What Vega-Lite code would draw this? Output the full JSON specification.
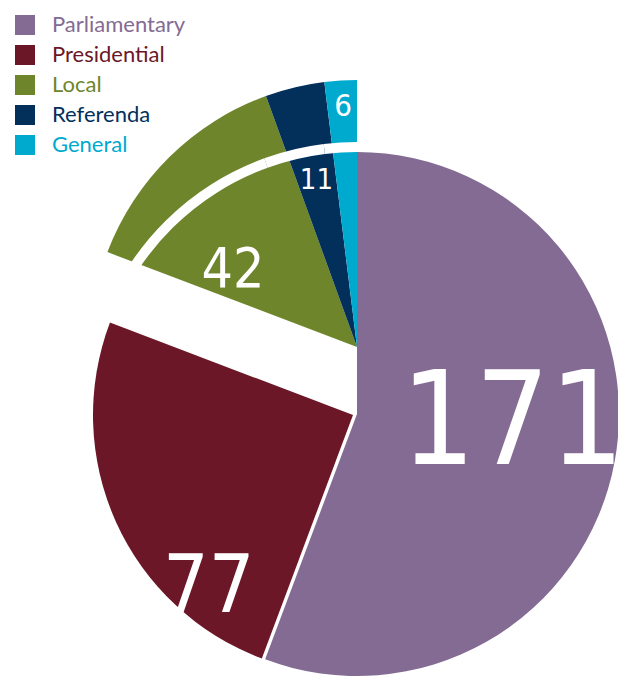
{
  "$schema": "https://vega.github.io/schema/vega-lite/v6.json",
  "width": 618,
  "height": 677,
  "autosize": "none",
  "padding": 0,
  "background": "white",
  "config": {"view": {"stroke": null}},
  "data": {
    "values": [
      {"Category": "Parliamentary", "Value": 171},
      {"Category": "Presidential", "Value": 77},
      {"Category": "Local", "Value": 42},
      {"Category": "Referenda", "Value": 11},
      {"Category": "General", "Value": 6}
    ]
  },
  "encoding": {
    "theta": {"field": "Value", "type": "quantitative", "stack": true},
    "order": {"field": "Value", "type": "quantitative", "sort": "descending"},
    "color": {
      "field": "Category",
      "type": "nominal",
      "scale": {
        "domain": ["Parliamentary", "Presidential", "Local", "Referenda", "General"],
        "range": ["#846B93", "#6B1727", "#6E852B", "#02305B", "#00AACF"]
      },
      "legend": {
        "title": null,
        "orient": "none",
        "legendX": 14,
        "legendY": 14,
        "padding": 0,
        "symbolType": "square",
        "symbolSize": 400,
        "symbolStrokeWidth": 0,
        "symbolOpacity": 1,
        "labelFont": "Lato",
        "labelFontSize": 22,
        "labelOffset": 16,
        "labelLimit": 300,
        "rowPadding": 8,
        "encode": {
          "labels": {"update": {"fill": {"scale": "color", "field": "value"}}},
          "symbols": {"update": {"opacity": {"value": 1}, "fillOpacity": {"value": 1}}}
        }
      }
    }
  },
  "layer": [
    {
      "mark": {"type": "arc", "x": 357, "y": 414, "radius": 262},
      "encoding": {
        "opacity": {"condition": {"test": "datum.Category === 'Parliamentary'", "value": 1}, "value": 0}
      }
    },
    {
      "mark": {"type": "arc", "x": 353, "y": 415, "radius": 260},
      "encoding": {
        "opacity": {"condition": {"test": "datum.Category === 'Presidential'", "value": 1}, "value": 0}
      }
    },
    {
      "mark": {"type": "arc", "x": 357, "y": 347, "radius": 267},
      "encoding": {
        "opacity": {"condition": {"test": "datum.Category === 'Local' || datum.Category === 'Referenda' || datum.Category === 'General'", "value": 1}, "value": 0}
      }
    },
    {
      "mark": {"type": "arc", "x": 357, "y": 414, "radius": 272, "radius2": 262},
      "encoding": {
        "color": {"value": "white"},
        "opacity": {"condition": {"test": "datum.Category === 'Local' || datum.Category === 'Referenda' || datum.Category === 'General'", "value": 1}, "value": 0}
      }
    },
    {
      "mark": {"type": "text", "x": 357, "y": 414, "radius": 156, "dx": 2, "dy": -17, "fontSize": 130, "font": "DejaVu Sans Condensed", "align": "center", "baseline": "middle"},
      "encoding": {
        "text": {"field": "Value"},
        "color": {"value": "white"},
        "opacity": {"condition": {"test": "datum.Category === 'Parliamentary'", "value": 1}, "value": 0}
      }
    },
    {
      "mark": {"type": "text", "x": 353, "y": 415, "radius": 199, "dx": 37, "dy": 91, "fontSize": 80, "font": "DejaVu Sans Condensed", "align": "center", "baseline": "middle"},
      "encoding": {
        "text": {"field": "Value"},
        "color": {"value": "white"},
        "opacity": {"condition": {"test": "datum.Category === 'Presidential'", "value": 1}, "value": 0}
      }
    },
    {
      "mark": {"type": "text", "x": 357, "y": 347, "radius": 144, "dx": -23, "dy": 26, "fontSize": 55, "font": "DejaVu Sans Condensed", "align": "center", "baseline": "middle"},
      "encoding": {
        "text": {"field": "Value"},
        "color": {"value": "white"},
        "opacity": {"condition": {"test": "datum.Category === 'Local'", "value": 1}, "value": 0}
      }
    },
    {
      "mark": {"type": "text", "x": 357, "y": 347, "radius": 174, "dx": 0, "dy": 2, "fontSize": 29, "font": "DejaVu Sans Condensed", "align": "center", "baseline": "middle"},
      "encoding": {
        "text": {"field": "Value"},
        "color": {"value": "white"},
        "opacity": {"condition": {"test": "datum.Category === 'Referenda'", "value": 1}, "value": 0}
      }
    },
    {
      "mark": {"type": "text", "x": 357, "y": 347, "radius": 242, "dx": 1, "dy": 2, "fontSize": 31, "font": "DejaVu Sans Condensed", "align": "center", "baseline": "middle"},
      "encoding": {
        "text": {"field": "Value"},
        "color": {"value": "white"},
        "opacity": {"condition": {"test": "datum.Category === 'General'", "value": 1}, "value": 0}
      }
    }
  ]
}
